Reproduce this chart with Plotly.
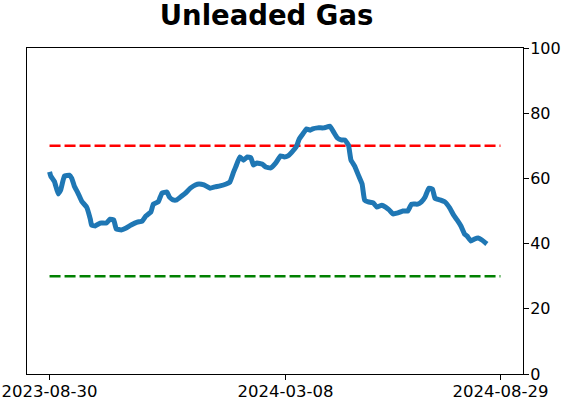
import plotly.graph_objects as go

dates = [
    "2023-08-30", "2023-08-31", "2023-09-03", "2023-09-06", "2023-09-08", "2023-09-11",
    "2023-09-15", "2023-09-17", "2023-09-19", "2023-09-22", "2023-09-25", "2023-09-29",
    "2023-10-02", "2023-10-03", "2023-10-06", "2023-10-10", "2023-10-15", "2023-10-18",
    "2023-10-21", "2023-10-23", "2023-10-27", "2023-10-31", "2023-11-04", "2023-11-09",
    "2023-11-13", "2023-11-16", "2023-11-20", "2023-11-22", "2023-11-26", "2023-11-29",
    "2023-12-03", "2023-12-05", "2023-12-08", "2023-12-11", "2023-12-15", "2023-12-18",
    "2023-12-22", "2023-12-26", "2023-12-29", "2024-01-02", "2024-01-07", "2024-01-11",
    "2024-01-15", "2024-01-20", "2024-01-23", "2024-01-26", "2024-01-28", "2024-01-31",
    "2024-02-03", "2024-02-06", "2024-02-09", "2024-02-11", "2024-02-14", "2024-02-18",
    "2024-02-21", "2024-02-25", "2024-02-29", "2024-03-04", "2024-03-07", "2024-03-10",
    "2024-03-13", "2024-03-17", "2024-03-19", "2024-03-22", "2024-03-25", "2024-03-28",
    "2024-03-30", "2024-04-03", "2024-04-08", "2024-04-13", "2024-04-16", "2024-04-19",
    "2024-04-22", "2024-04-25", "2024-04-28", "2024-04-30", "2024-05-03", "2024-05-06",
    "2024-05-09", "2024-05-11", "2024-05-14", "2024-05-18", "2024-05-21", "2024-05-25",
    "2024-05-28", "2024-05-31", "2024-06-03", "2024-06-07", "2024-06-11", "2024-06-15",
    "2024-06-18", "2024-06-23", "2024-06-26", "2024-06-29", "2024-07-02", "2024-07-05",
    "2024-07-07", "2024-07-11", "2024-07-15", "2024-07-19", "2024-07-22", "2024-07-25",
    "2024-07-28", "2024-07-31", "2024-08-02", "2024-08-05", "2024-08-08", "2024-08-11",
    "2024-08-14", "2024-08-18",
]
values = [
    62.0, 60.7, 59.0, 55.2, 56.4, 60.7,
    61.0, 60.0, 57.7, 55.5, 53.0, 51.2,
    47.5, 45.7, 45.4, 46.3, 46.3, 47.5,
    47.2, 44.5, 44.2, 44.8, 45.7, 46.6,
    46.9, 48.5, 49.7, 52.1, 52.8, 55.5,
    55.8, 54.3, 53.4, 53.4, 54.6, 55.5,
    57.0, 58.0, 58.3, 58.0, 57.0, 57.4,
    57.7, 58.3, 58.9, 62.0, 63.8, 66.6,
    65.6, 66.6, 66.3, 64.1, 64.7, 64.4,
    63.5, 63.2, 64.7, 66.9, 66.6, 66.9,
    68.0, 69.9, 72.0, 73.6, 75.2, 74.8,
    75.2, 75.5, 75.5, 76.0, 74.2, 72.4,
    71.8, 71.8, 70.2, 65.6, 63.8, 61.0,
    58.3, 53.4, 52.8, 52.5, 51.2, 51.8,
    51.2, 50.3, 49.1, 49.4, 50.0, 50.0,
    52.1, 52.1, 52.8, 54.3, 57.0, 56.7,
    53.9, 53.4, 52.8, 50.9, 48.8, 47.2,
    45.4, 42.9, 42.3, 40.8, 41.4, 41.7,
    41.1, 39.9,
]

start_date = "2023-08-30"
end_date = "2024-08-29"
upper_level = 70
lower_level = 30
tick_dates = ["2023-08-30", "2024-03-08", "2024-08-29"]
x_range = ["2023-08-11 18:00", "2024-09-16 06:00"]
y_ticks = [0, 20, 40, 60, 80, 100]

fig = go.Figure()
fig.add_trace(go.Scatter(
    x=[start_date, end_date], y=[upper_level, upper_level], mode="lines",
    line=dict(color="#ff0000", width=2.6, dash="11px,4px"), showlegend=False, hoverinfo="skip"))
fig.add_trace(go.Scatter(
    x=[start_date, end_date], y=[lower_level, lower_level], mode="lines",
    line=dict(color="#008000", width=2.6, dash="11px,4px"), showlegend=False, hoverinfo="skip"))
fig.add_trace(go.Scatter(
    x=dates, y=values, mode="lines",
    line=dict(color="#1f77b4", width=5, shape="spline", smoothing=0.3),
    showlegend=False))

font_family = "DejaVu Sans"
fig.update_layout(
    width=562, height=402,
    margin=dict(l=27, r=39, t=48, b=28),
    paper_bgcolor="white", plot_bgcolor="white",
    font=dict(family=font_family, color="black", size=16),
    title=dict(text="<b>Unleaded Gas</b>", font=dict(family=font_family, size=27.5, color="black"),
               x=0.483, xanchor="center", xref="paper", y=0.962, yanchor="middle", yref="container"),
    xaxis=dict(
        type="date", range=x_range, tickvals=tick_dates, ticktext=tick_dates,
        showgrid=False, zeroline=False, showline=True, linecolor="black", linewidth=1,
        mirror=True, ticks="outside", ticklen=5, tickcolor="black", automargin=False,
        ticklabelstandoff=-3,
        tickfont=dict(size=16.5, family=font_family)),
    yaxis=dict(
        range=[0, 100], tickvals=y_ticks, side="right",
        showgrid=False, zeroline=False, showline=True, linecolor="black", linewidth=1,
        mirror=True, ticks="outside", ticklen=5, tickcolor="black", automargin=False,
        ticklabelstandoff=-2,
        tickfont=dict(size=16, family=font_family)),
)

fig.write_html("out.html")
